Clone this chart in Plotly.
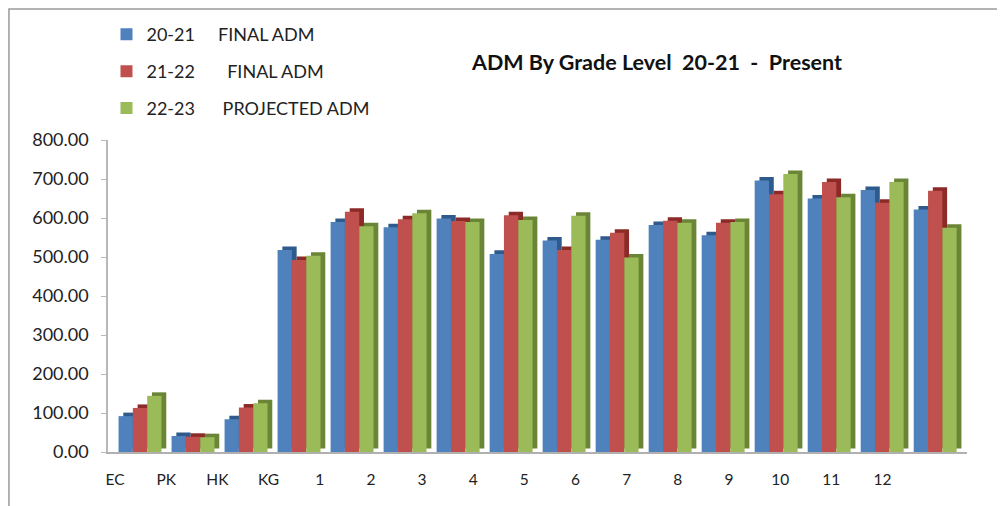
import plotly.graph_objects as go

categories = ["EC", "PK", "HK", "KG", "1", "2", "3", "4", "5", "6", "7", "8", "9", "10", "11", "12"]
adm_20_21 = [92, 41, 84, 518, 590, 576, 599, 508, 542, 544, 582, 556, 696, 650, 672, 622]
adm_21_22 = [113, 39, 114, 492, 616, 597, 592, 607, 518, 562, 593, 588, 661, 692, 639, 670]
adm_22_23 = [144, 38, 125, 503, 579, 612, 590, 595, 606, 499, 588, 590, 713, 653, 692, 575]

NB = "\u00a0"
series_names = [
    "20-21" + NB * 5 + "FINAL ADM",
    "21-22" + NB * 7 + "FINAL ADM",
    "22-23" + NB * 6 + "PROJECTED ADM",
]
series_values = [adm_20_21, adm_21_22, adm_22_23]
front_colors = ["#4f81bd", "#c0504d", "#9bbb59"]
side_colors = ["#2f5a8c", "#8c2a27", "#6a8536"]

FONT = "Lato, 'Liberation Sans', sans-serif"
x = list(range(len(categories)))
bar_w = 0.27
offsets = [-0.405, -0.135, 0.135]
depth_x = 0.09
depth_y = 9

fig = go.Figure()
for i, (name, vals) in enumerate(zip(series_names, series_values)):
    # depth (side/top) face
    fig.add_trace(go.Bar(
        x=x, y=vals, base=[depth_y] * len(vals),
        offset=offsets[i] + depth_x, width=bar_w,
        marker=dict(color=side_colors[i], line=dict(width=0)),
        showlegend=False, hoverinfo="skip",
    ))
    # front face
    fig.add_trace(go.Bar(
        x=x, y=vals, name=name, legendgroup=f"g{i}",
        offset=offsets[i], width=bar_w,
        marker=dict(color=front_colors[i], line=dict(width=0)),
    ))

n = len(categories)
tickvals = [i * 0.965 - 0.47 for i in range(n)]

fig.update_layout(
    width=1005, height=506,
    barmode="overlay",
    plot_bgcolor="white", paper_bgcolor="white",
    margin=dict(l=100, r=46, t=132, b=62, autoexpand=False),
    font=dict(family=FONT, size=16, color="#222"),
    showlegend=True,
    legend=dict(
        xref="container", yref="container",
        x=0.098, y=0.984, xanchor="left", yanchor="top",
        font=dict(size=18, color="#222"),
        tracegroupgap=10.5, itemwidth=30,
        bgcolor="rgba(0,0,0,0)",
    ),
    xaxis=dict(
        range=[-0.604, 15.6], automargin=False,
        tickmode="array", tickvals=tickvals, ticktext=categories,
        showgrid=False, zeroline=False,
        showline=True, linecolor="#b0b0b0", linewidth=2,
        ticks="", ticklabelstandoff=12,
        tickfont=dict(size=15.5, color="#222"),
    ),
    yaxis=dict(
        range=[0, 800], tickvals=[0, 100, 200, 300, 400, 500, 600, 700, 800],
        tickformat=".2f", automargin=False,
        showgrid=False, zeroline=False,
        showline=True, linecolor="#b8b8b8", linewidth=1.5,
        ticks="outside", ticklen=5, tickcolor="#b8b8b8",
        ticklabelstandoff=9,
        tickfont=dict(size=18, color="#222"),
    ),
    annotations=[dict(
        text="<b>ADM By Grade Level" + NB * 2 + "20-21" + NB * 2 + "-" + NB * 2 + "Present</b>",
        xref="paper", yref="paper", x=0.638, y=1.25,
        xanchor="center", yanchor="middle", showarrow=False,
        font=dict(size=21.5, color="#111", family=FONT),
    )],
    shapes=[dict(
        type="rect", xref="paper", yref="paper",
        x0=-0.1153, x1=1.08, y0=-0.25, y1=1.42,
        line=dict(color="#9a9a9a", width=1.5), fillcolor="rgba(0,0,0,0)",
        layer="below",
    )],
)

fig.write_html("out.html")
